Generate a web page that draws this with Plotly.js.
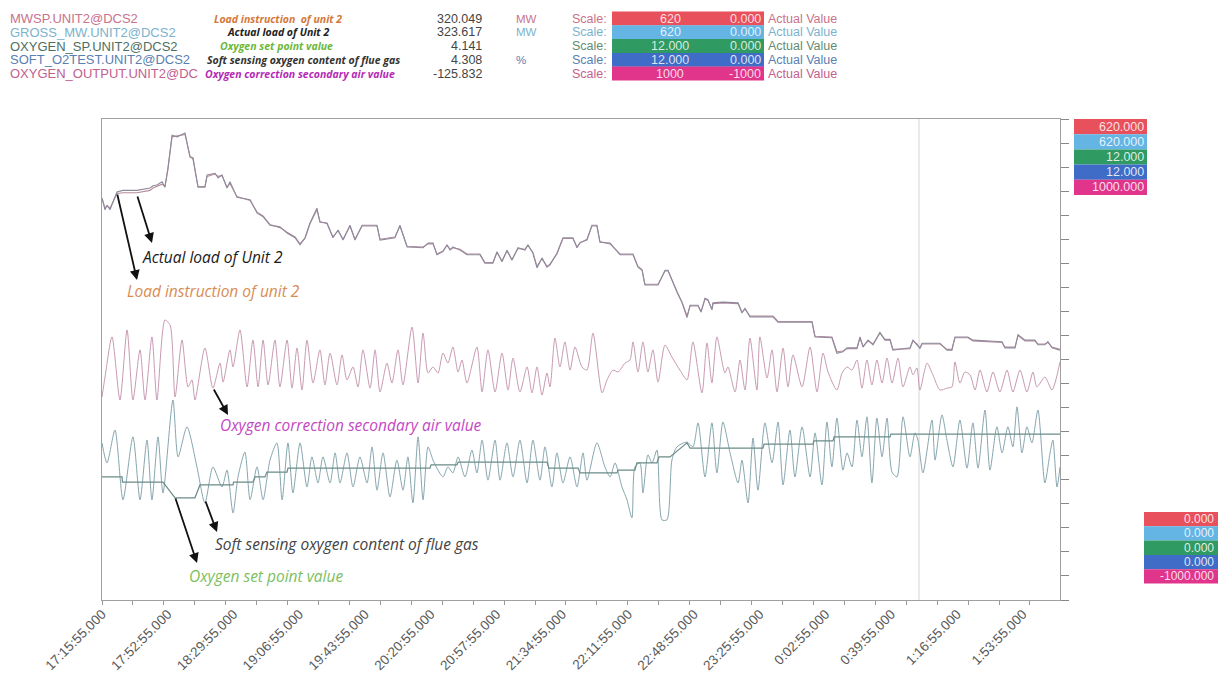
<!DOCTYPE html>
<html>
<head>
<meta charset="utf-8">
<script src="https://cdn.plot.ly/plotly-3.0.1.min.js"></script>
<style>
html,body{margin:0;padding:0;background:#fff;}
#chart{width:1218px;height:681px;}
</style>
</head>
<body>
<div id="chart"></div>
<script>
// ---------------- DATA ----------------
// time axis: minutes after 17:15:55
const tickMinutes = [0,37,74,111,148,185,222,259,296,333,370,407,444,481,518];
const tickLabels = ['17:15:55.000','17:52:55.000','18:29:55.000','19:06:55.000','19:43:55.000','20:20:55.000','20:57:55.000','21:34:55.000','22:11:55.000','22:48:55.000','23:25:55.000','0:02:55.000','0:39:55.000','1:16:55.000','1:53:55.000'];

// Load (MW), scale 0..620
const loadTime = [0,1.7,2.8,4.5,8.4,11.8,19.7,27.0,28.7,30.9,
33.8,35.4,37.1,39.4,42.2,46.7,49.5,51.2,54.0,57.9,
59.1,63.6,65.3,67.5,70.3,72.0,75.9,79.3,83.3,87.2,
90.6,94.5,
100.1,104.1,108.6,111.4,114.2,117.0,120.9,122.6,126.6,129.9,
132.8,135.6,139.5,142.3,146.3,154.7,156.4,164.8,167.6,171.6,
180.6,183.4,186.2,188.4,191.8,194.1,195.8,197.4,201.4,205.3,
212.6,215.4,219.9,222.2,225.0,227.8,230.6,234.0,237.9,239.6,
242.4,244.7,247.5,250.3,252.0,255.9,259.3,264.9,267.2,268.9,
272.8,275.6,278.4,280.1,285.8,
291.4,298.7,301.5,303.8,305.4,312.8,316.7,318.4,323.4,326.3,
329.1,330.8,335.3,337.0,339.2,340.9,343.1,343.7,349.3,357.8,
360.0,361.7,364.5,377.4,380.3,399.4,401.1,410.6,413.4,416.8,
419.1,424.7,426.4,428.1,430.9,433.7,437.6,440.4,443.3,444.9,
454.5,456.2,458.4,460.1,461.3,471.4,475.3,478.1,479.8,487.1,
489.9,506.3,507.9,513.6,515.3,519.2,524.8,526.5,530.4,532.1,
534.4,538.9];
const loadActual = [518,503,509,503,526,528,528,531,534,535,
539,532,557,599,597,602,571,570,532,532,
548,550,544,548,531,539,519,518,516,499,
494,483,
481,473,467,458,467,486,505,487,486,467,
477,464,483,464,483,483,464,467,483,455,
454,460,460,445,449,458,451,455,451,445,
445,434,434,449,436,451,438,454,451,458,
447,428,441,429,432,447,467,467,454,461,
464,483,483,461,460,
445,445,429,425,406,406,425,425,397,383,
364,380,380,371,389,387,374,383,384,383,
370,376,365,365,358,358,339,338,318,320,
325,325,339,326,335,329,345,335,335,322,
325,335,329,325,331,331,322,322,339,339,
335,333,325,325,342,335,335,329,329,333,
325,322];
const loadInstruction = [518,505,508,505,524,525,525,528,531,533,
536,533,555,597,598,600,572,568,533,533,
546,549,546,547,532,537,520,518,515,500,
495,484,
480,474,468,459,466,485,503,488,485,468,
476,465,482,465,482,482,465,468,482,456,
455,459,459,446,450,457,452,454,452,446,
446,435,435,448,437,450,439,453,452,457,
448,430,440,430,433,446,466,466,455,460,
465,482,482,462,459,
446,446,430,426,407,407,424,424,398,384,
366,379,379,372,388,386,375,382,383,382,
371,375,366,366,359,359,340,339,320,321,
324,324,338,327,334,330,344,336,336,323,
324,334,330,324,330,330,323,323,338,338,
334,332,326,326,341,334,334,330,330,332,
326,323];

// Oxygen correction secondary air value, scale -1000..1000
const corrTime = [0,1.7,5.6,10.1,14.1,17.4,21.4,24.2,28.1,30.9,
35.4,38.3,41.1,45.0,48.4,50.6,52.3,57.9,62.4,66.4,
68.1,72.0,73.7,77.6,81.6,84.9,87.8,90.6,93.4,97.3,
100.1,104.1,106.9,109.7,112.5,115.3,118.7,122.6,125.4,128.3,
132.2,135.0,137.8,141.2,144.0,146.8,150.8,153.6,156.4,160.3,
163.1,166.5,169.3,174.4,177.8,180.6,183.4,186.2,189.0,191.8,
194.6,197.4,200.3,202.5,205.3,210.9,213.8,217.1,221.1,225.0,
228.4,231.2,235.1,239.1,241.9,244.7,247.5,250.3,252.0,254.8,
257.6,260.4,263.3,266.1,270.0,272.8,276.2,281.3,284.1,287.4,
290.3,294.2,297.0,298.7,301.5,304.3,307.1,309.9,312.8,316.7,
320.6,325.1,329.1,332.4,337.5,340.3,343.1,345.9,350.4,352.1,
356.1,358.9,361.7,364.5,368.4,370.1,374.1,376.9,379.7,383.1,
385.9,388.7,393.8,398.3,402.2,405.6,408.4,413.4,416.3,419.1,
421.9,424.7,427.5,430.3,433.1,435.9,438.8,441.6,444.4,447.8,
450.6,454.5,456.2,458.4,460.1,464.1,467.4,471.4,475.3,478.1,
479.8,482.6,485.4,488.3,491.1,493.9,497.8,501.2,505.1,509.1,
512.4,516.4,520.3,523.7,525.9,530.4,534.4,538.9];
const corrValue = [-156,-73,94,-168,123,-168,40,-168,94,-168,
164,143,-156,81,-114,-85,-168,48,-119,-15,
-94,40,-31,123,-114,81,-114,81,-106,81,
-114,81,-119,48,-127,81,-98,40,-106,27,
-106,19,-85,-31,-114,40,-119,40,-135,-15,
-98,40,-106,135,-98,110,-56,-31,-56,27,
-15,52,-52,-2,-98,52,-135,40,-135,27,
-127,6,-135,-31,-139,-31,-148,-56,-114,89,
-31,73,-44,52,-31,-44,110,-139,-85,-44,
-52,-15,-2,73,-52,73,-52,40,-94,60,
10,-44,-85,73,-139,69,-98,94,-56,-31,
-135,-2,-127,89,-127,94,-77,40,-135,48,
-114,19,-114,52,-135,27,-52,-127,-56,-31,
-44,-2,-119,-2,-106,-2,-98,6,-98,6,
-114,-31,-64,-35,-127,-15,-64,-127,-119,-114,
-10,-98,-52,-64,-127,-44,-135,-52,-135,-44,
-135,-44,-135,-52,-114,-73,-127,-10];

// Soft sensing oxygen content of flue gas (%), scale 0..12
const softTime = [0,2.8,7.3,11.8,17.4,21.4,25.3,28.1,31.5,34.3,
39.9,42.8,47.8,53.4,57.9,62.4,67.5,70.3,73.7,76.5,
80.4,83.3,87.2,90.6,94.5,98.4,101.3,104.6,107.4,111.4,
115.3,118.1,121.5,124.3,128.3,131.1,133.9,137.8,141.2,145.1,
149.1,151.9,154.7,158.1,162.0,165.9,169.3,172.1,174.9,177.8,
180.6,183.4,186.2,189.0,191.8,194.6,197.4,200.3,204.2,208.1,
210.9,213.8,217.1,221.1,223.9,227.8,231.2,235.1,239.1,242.4,
246.4,249.2,253.1,255.9,259.3,263.3,267.2,270.6,272.8,278.4,
282.9,285.8,288.6,292.5,295.3,298.1,299.8,302.6,304.3,307.1,
309.4,312.2,315.0,317.8,320.6,323.4,329.1,332.4,335.3,339.2,
343.1,345.9,349.3,353.3,357.8,360.0,363.4,366.2,369.0,372.9,
376.9,380.3,383.1,387.0,389.8,393.8,398.3,401.1,405.0,407.8,
410.6,413.4,416.8,419.1,421.9,424.7,427.5,430.3,433.1,435.9,
438.8,441.6,444.4,447.2,450.6,454.5,457.3,459.0,461.8,466.9,
468.6,472.5,475.3,478.7,482.6,486.6,489.9,492.8,496.7,499.5,
503.4,506.3,509.6,512.4,514.7,517.5,520.3,523.1,526.5,530.4,
533.3,534.9,537.2,538.9];
const softValue = [3.92,3.42,4.24,2.50,4.07,2.50,3.99,2.50,4.07,2.67,
4.99,3.57,4.32,3.32,2.42,3.32,2.82,3.24,2.17,3.07,
3.69,2.50,3.32,2.50,3.49,3.92,2.50,3.92,2.67,3.92,
2.82,3.57,2.92,3.57,2.92,3.67,2.92,3.67,2.82,3.57,
2.92,3.82,2.74,3.67,2.57,3.49,2.74,3.57,2.42,4.07,
2.50,3.82,3.49,3.24,3.07,3.32,3.17,3.57,3.07,3.74,
3.17,3.99,2.99,3.99,2.99,3.92,3.07,3.99,2.92,3.99,
2.99,3.82,2.82,3.67,2.92,3.57,2.82,3.67,2.99,3.92,
3.32,3.07,3.42,2.82,2.50,2.05,3.32,3.42,2.67,3.62,
3.42,3.74,2.00,2.00,3.49,3.82,3.94,3.82,4.42,3.07,
4.42,3.17,4.44,3.67,2.92,3.49,2.42,4.04,2.74,4.42,
3.42,4.44,2.87,4.24,3.07,4.32,3.07,4.17,2.87,4.44,
3.32,4.54,3.24,3.67,3.32,4.49,3.57,4.57,2.92,4.54,
3.57,4.54,3.19,3.07,4.57,3.57,4.17,3.99,3.17,4.49,
3.49,4.62,3.99,3.32,4.49,3.29,4.42,3.29,4.74,3.24,
4.32,3.67,4.32,3.82,4.82,3.67,4.32,3.92,4.74,2.92,
3.67,3.99,2.82,3.32];

// Oxygen set point value (%), scale 0..12
const setTime = [0,11.3,11.5,34.3,41.1,52.3,55.1,73.7,74.0,84.9,
86.1,91.7,92.8,104.1,104.6,184.5,185.1,199.7,200.3,250.3,
251.4,267.8,268.9,289.7,290.3,299.8,300.9,312.2,313.3,319.5,
329.1,330.8,371.8,372.4,399.9,400.5,411.2,411.8,443.3,443.8,538.9];
const setValue = [3.07,3.07,2.94,2.94,2.55,2.55,2.87,2.87,2.94,2.94,
3.07,3.07,3.19,3.19,3.29,3.29,3.37,3.37,3.44,3.44,
3.29,3.29,3.17,3.17,3.24,3.24,3.42,3.42,3.57,3.57,
3.92,3.79,3.79,3.89,3.89,3.97,3.97,4.07,4.07,4.14,4.14];

const cursorTime = 459.6;

// header table
const tagNames = ['MWSP.UNIT2@DCS2','GROSS_MW.UNIT2@DCS2','OXYGEN_SP.UNIT2@DCS2','SOFT_O2TEST.UNIT2@DCS2','OXYGEN_OUTPUT.UNIT2@DC'];
const descriptions = ['Load instruction  of unit 2','Actual load of Unit 2','Oxygen set point value','Soft sensing oxygen content of flue gas','Oxygen correction secondary air value'];
const currentValues = ['320.049','323.617','4.141','4.308','-125.832'];
const units = ['MW','MW','','%',''];
const scaleHigh = ['620','620','12.000','12.000','1000'];
const scaleLow = ['0.000','0.000','0.000','0.000','-1000'];
const rightHigh = ['620.000','620.000','12.000','12.000','1000.000'];
const rightLow = ['0.000','0.000','0.000','0.000','-1000.000'];

// ---------------- STYLE ----------------
const L = 102, R = 1060, T = 119, B = 600;
const W = R - L, H = B - T;
const fx = x => (x - L) / W;
const fy = y => (B - y) / H;

const tagColors = ['#c8728c','#7cb2cc','#4f6e62','#5a80b2','#c2608e'];
const scaleColors = ['#c8728c','#7cb2cc','#5f8c74','#5a80b2','#c2608e'];
const boxColors = ['#e8505c','#64b4e4','#2f9a62','#3f6cc6','#e0358a'];
const descColors = ['#d4783a','#222222','#6cb83c','#333333','#b52ab5'];
const sans = 'Liberation Sans, Arial, sans-serif';
const open = 'Open Sans, Liberation Sans, sans-serif';

const traces = [
  {x: corrTime, y: corrValue, yaxis: 'y3', mode: 'lines', line: {color: '#c89ab2', width: 1, shape: 'spline', smoothing: 0.7}, hoverinfo: 'skip'},
  {x: softTime, y: softValue, yaxis: 'y2', mode: 'lines', line: {color: '#86a6ae', width: 1, shape: 'spline', smoothing: 0.7}, hoverinfo: 'skip'},
  {x: setTime, y: setValue, yaxis: 'y2', mode: 'lines', line: {color: '#6b8c88', width: 1.2}, hoverinfo: 'skip'},
  {x: loadTime, y: loadInstruction, yaxis: 'y', mode: 'lines', line: {color: '#b58c9c', width: 1.1}, hoverinfo: 'skip'},
  {x: loadTime, y: loadActual, yaxis: 'y', mode: 'lines', line: {color: '#8e8a9c', width: 1.1}, hoverinfo: 'skip'}
];

const shapes = [
  {type: 'line', xref: 'x', yref: 'paper', x0: cursorTime, x1: cursorTime, y0: 0, y1: 1, line: {color: '#dcdcdc', width: 1.2}, layer: 'below'}
];
const annotations = [];

// header rows
const rowC = [18.5, 32.2, 46, 59.8, 73.5];
for (let i = 0; i < 5; i++) {
  const c = rowC[i];
  annotations.push({xref:'paper', yref:'paper', x: fx(8), y: fy(c), xanchor:'left', yanchor:'middle', showarrow:false, text: tagNames[i], font:{family: sans, size: 13, color: tagColors[i]}});
  const dx = [212, 225, 218, 205, 203][i];
  annotations.push({xref:'paper', yref:'paper', x: fx(dx), y: fy(c), xanchor:'left', yanchor:'middle', showarrow:false, text: '<b><i>' + descriptions[i] + '</i></b>', font:{family: open, size: 10.5, color: descColors[i]}});
  annotations.push({xref:'paper', yref:'paper', x: fx(484), y: fy(c), xanchor:'right', yanchor:'middle', showarrow:false, text: currentValues[i], font:{family: sans, size: 12.5, color: '#444'}});
  if (units[i]) annotations.push({xref:'paper', yref:'paper', x: fx(514), y: fy(c), xanchor:'left', yanchor:'middle', showarrow:false, text: units[i], font:{family: sans, size: 11.5, color: scaleColors[i]}});
  annotations.push({xref:'paper', yref:'paper', x: fx(570), y: fy(c), xanchor:'left', yanchor:'middle', showarrow:false, text: 'Scale:', font:{family: sans, size: 12.5, color: scaleColors[i]}});
  shapes.push({type:'rect', xref:'paper', yref:'paper', x0: fx(612), x1: fx(764), y0: fy(c + 6.9), y1: fy(c - 6.9), fillcolor: boxColors[i], line:{width:0}, layer:'above'});
  annotations.push({xref:'paper', yref:'paper', x: fx(670), y: fy(c), xanchor:'center', yanchor:'middle', showarrow:false, text: scaleHigh[i], font:{family: sans, size: 12.5, color: 'rgba(255,255,255,0.82)'}});
  annotations.push({xref:'paper', yref:'paper', x: fx(763), y: fy(c), xanchor:'right', yanchor:'middle', showarrow:false, text: scaleLow[i], font:{family: sans, size: 12.5, color: 'rgba(255,255,255,0.82)'}});
  annotations.push({xref:'paper', yref:'paper', x: fx(766), y: fy(c), xanchor:'left', yanchor:'middle', showarrow:false, text: 'Actual Value', font:{family: sans, size: 12.5, color: scaleColors[i]}});
}

// right-hand scale boxes
for (let i = 0; i < 5; i++) {
  const t1 = 119 + i * 15.2, b1 = t1 + 15.2;
  shapes.push({type:'rect', xref:'paper', yref:'paper', x0: fx(1074), x1: fx(1147), y0: fy(b1), y1: fy(t1), fillcolor: boxColors[i], line:{width:0}, layer:'above'});
  annotations.push({xref:'paper', yref:'paper', x: fx(1146), y: fy((t1 + b1) / 2), xanchor:'right', yanchor:'middle', showarrow:false, text: rightHigh[i], font:{family: sans, size: 12.5, color: 'rgba(255,255,255,0.85)'}});
  const t2 = 512 + i * 14.3, b2 = t2 + 14.3;
  shapes.push({type:'rect', xref:'paper', yref:'paper', x0: fx(1144), x1: fx(1218), y0: fy(b2), y1: fy(t2), fillcolor: boxColors[i], line:{width:0}, layer:'above'});
  annotations.push({xref:'paper', yref:'paper', x: fx(1216), y: fy((t2 + b2) / 2), xanchor:'right', yanchor:'middle', showarrow:false, text: rightLow[i], font:{family: sans, size: 12, color: 'rgba(255,255,255,0.85)'}});
}

// in-plot labels
const labels = [
  {text: 'Actual load of Unit 2', x: 140, y: 257, color: '#1a1a1a'},
  {text: 'Load instruction of unit 2', x: 125, y: 291, color: '#d98c52'},
  {text: 'Oxygen correction secondary air value', x: 218, y: 425, color: '#c448c4'},
  {text: 'Soft sensing oxygen content of flue gas', x: 213, y: 544, color: '#444444'},
  {text: 'Oxygen set point value', x: 187, y: 576, color: '#7cc062'}
];
labels.forEach(l => annotations.push({xref:'paper', yref:'paper', x: fx(l.x), y: fy(l.y), xanchor:'left', yanchor:'middle', showarrow:false, text: '<i>' + l.text + '</i>', font:{family: open, size: 15.5, color: l.color}}));

const arrows = [
  {tx: 117, ty: 193, hx: 137, hy: 280},
  {tx: 137, ty: 195, hx: 152, hy: 243},
  {tx: 213, ty: 388, hx: 228, hy: 415},
  {tx: 205, ty: 500, hx: 217, hy: 532},
  {tx: 175, ty: 497, hx: 197, hy: 563}
];
arrows.forEach(a => annotations.push({xref:'paper', yref:'paper', x: fx(a.hx), y: fy(a.hy), ax: a.tx - a.hx, ay: a.ty - a.hy, axref:'pixel', ayref:'pixel', text:'', showarrow:true, arrowhead:2, arrowsize:1.1, arrowwidth:1.8, arrowcolor:'#111', standoff:0, startstandoff:0}));

const layout = {
  width: 1218, height: 681,
  margin: {l: L, r: 1218 - R, t: T, b: 681 - B, pad: 0},
  paper_bgcolor: '#ffffff', plot_bgcolor: '#ffffff',
  showlegend: false,
  xaxis: {
    range: [0, 538.9], tickmode: 'array', tickvals: tickMinutes, ticktext: tickLabels,
    tickangle: -45, ticks: '', showgrid: false, zeroline: false,
    showline: true, mirror: true, linecolor: '#a0a0a0', linewidth: 1,
    tickfont: {family: sans, size: 13.5, color: '#5a5a5a'},
    minor: {tickmode: 'linear', tick0: 0, dtick: 17.4, ticks: 'outside', ticklen: 4, tickcolor: '#999', showgrid: false}
  },
  yaxis: {
    range: [0, 620], side: 'right', tickmode: 'linear', tick0: 0, dtick: 31,
    ticks: 'outside', ticklen: 8, tickcolor: '#888', showticklabels: false,
    showgrid: false, zeroline: false, showline: true, mirror: true, linecolor: '#a0a0a0', linewidth: 1
  },
  yaxis2: {range: [0, 12], overlaying: 'y', visible: false, showgrid: false, zeroline: false},
  yaxis3: {range: [-1000, 1000], overlaying: 'y', visible: false, showgrid: false, zeroline: false},
  shapes: shapes,
  annotations: annotations
};

Plotly.newPlot('chart', traces, layout, {staticPlot: true, displayModeBar: false});
</script>
</body>
</html>
